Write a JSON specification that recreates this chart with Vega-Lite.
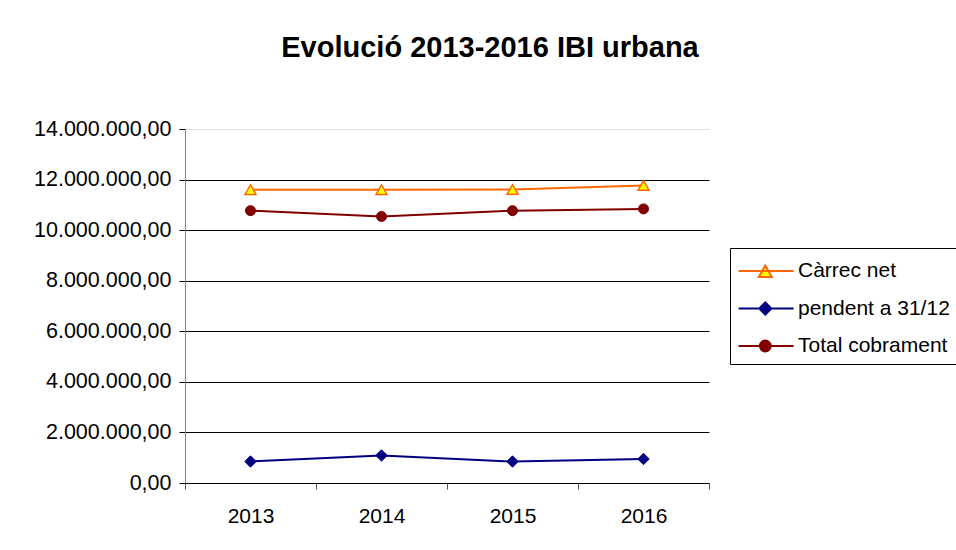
{
  "$schema": "https://vega.github.io/schema/vega-lite/v6.json",
  "width": 524,
  "height": 354,
  "autosize": "none",
  "padding": {"left": 185, "top": 129, "right": 247, "bottom": 67},
  "background": "white",
  "title": {
    "text": "Evolució 2013-2016 IBI urbana",
    "font": "Liberation Sans",
    "fontSize": 29,
    "fontWeight": "bold",
    "color": "black",
    "anchor": "middle",
    "frame": "group",
    "dx": 43,
    "offset": 55
  },
  "data": {
    "values": [
      {"year": "2013", "series": "Càrrec net", "value": 11600000},
      {"year": "2014", "series": "Càrrec net", "value": 11600000},
      {"year": "2015", "series": "Càrrec net", "value": 11610000},
      {"year": "2016", "series": "Càrrec net", "value": 11770000},
      {"year": "2013", "series": "pendent a 31/12", "value": 850000},
      {"year": "2014", "series": "pendent a 31/12", "value": 1090000},
      {"year": "2015", "series": "pendent a 31/12", "value": 850000},
      {"year": "2016", "series": "pendent a 31/12", "value": 950000},
      {"year": "2013", "series": "Total cobrament", "value": 10770000},
      {"year": "2014", "series": "Total cobrament", "value": 10540000},
      {"year": "2015", "series": "Total cobrament", "value": 10770000},
      {"year": "2016", "series": "Total cobrament", "value": 10840000}
    ]
  },
  "encoding": {
    "x": {
      "field": "year",
      "type": "ordinal",
      "bandPosition": 0.5,
      "scale": {"type": "band", "paddingInner": 0, "paddingOuter": 0},
      "axis": {
        "title": null,
        "labelAngle": 0,
        "labelFont": "Liberation Sans",
        "labelFontSize": 21,
        "labelColor": "black",
        "labelPadding": 16,
        "tickSize": 6,
        "tickColor": "#555555",
        "tickBand": "extent",
        "domainColor": "black",
        "grid": false
      }
    },
    "y": {
      "field": "value",
      "type": "quantitative",
      "scale": {"domain": [0, 14000000], "nice": false, "zero": true},
      "axis": {
        "title": null,
        "values": [0, 2000000, 4000000, 6000000, 8000000, 10000000, 12000000, 14000000],
        "format": ",.2f",
        "labelFont": "Liberation Sans",
        "labelFontSize": 21.5,
        "labelColor": "black",
        "labelPadding": 8,
        "labelFlush": false,
        "labelOverlap": false,
        "tickSize": 6,
        "tickColor": "black",
        "domainColor": "#808080",
        "grid": true,
        "gridWidth": 1,
        "gridColor": {"condition": {"test": "datum.value == 14000000", "value": "#e0e0e0"}, "value": "black"}
      }
    }
  },
  "layer": [
    {
      "transform": [{"filter": "datum.series === 'Càrrec net'"}],
      "mark": {
        "type": "line",
        "color": "#FF6600",
        "strokeWidth": 2,
        "point": {"shape": "triangle-up", "filled": true, "fill": "#FFFF00", "stroke": "#FF6600", "strokeWidth": 1.5, "size": 120, "opacity": 1}
      },
      "encoding": {}
    },
    {
      "transform": [{"filter": "datum.series === 'pendent a 31/12'"}],
      "mark": {
        "type": "line",
        "color": "#000080",
        "strokeWidth": 2,
        "point": {"shape": "diamond", "filled": true, "fill": "#000080", "stroke": "#000080", "strokeWidth": 1, "size": 130, "opacity": 1}
      },
      "encoding": {}
    },
    {
      "transform": [{"filter": "datum.series === 'Total cobrament'"}],
      "mark": {
        "type": "line",
        "color": "#800000",
        "strokeWidth": 2,
        "point": {"shape": "circle", "filled": true, "fill": "#800000", "stroke": "#800000", "strokeWidth": 1, "size": 100, "opacity": 1}
      },
      "encoding": {}
    },
    {
      "mark": {"type": "point", "filled": true, "opacity": 0},
      "encoding": {
        "stroke": {
          "field": "series", "type": "nominal",
          "scale": {"domain": ["Càrrec net", "pendent a 31/12", "Total cobrament"], "range": ["#FF6600", "#000080", "#800000"]},
          "legend": {"title": null, "orient": "none", "legendX": 545, "legendY": 119, "symbolSize": 784, "symbolStrokeWidth": 2, "symbolOpacity": 1, "labelFont": "Liberation Sans", "labelFontSize": 21, "labelColor": "black", "labelOffset": 30, "rowPadding": 11.5, "padding": 8, "strokeColor": "black", "labelLimit": 400}
        },
        "fill": {
          "field": "series", "type": "nominal",
          "scale": {"domain": ["Càrrec net", "pendent a 31/12", "Total cobrament"], "range": ["#FFFF00", "#000080", "#800000"]},
          "legend": {"title": null, "orient": "none", "legendX": 545, "legendY": 119, "symbolSize": 784, "symbolStrokeWidth": 2, "symbolOpacity": 1, "labelFont": "Liberation Sans", "labelFontSize": 21, "labelColor": "black", "labelOffset": 30, "rowPadding": 11.5, "padding": 8, "strokeColor": "black", "labelLimit": 400}
        },
        "shape": {
          "field": "series", "type": "nominal",
          "scale": {"domain": ["Càrrec net", "pendent a 31/12", "Total cobrament"], "range": [
            "M-1.029,0H2.9M0.879,-0.39L1.343,0.43L0.415,0.43Z",
            "M-1.029,0H2.9M0.879,-0.43L1.309,0L0.879,0.43L0.449,0Z",
            "M-1.029,0H2.9M1.269,0A0.39,0.39,0,1,1,0.489,0A0.39,0.39,0,1,1,1.269,0Z"
          ]},
          "legend": {"title": null, "orient": "none", "legendX": 545, "legendY": 119, "symbolSize": 784, "symbolStrokeWidth": 2, "symbolOpacity": 1, "labelFont": "Liberation Sans", "labelFontSize": 21, "labelColor": "black", "labelOffset": 30, "rowPadding": 11.5, "padding": 8, "strokeColor": "black", "labelLimit": 400}
        }
      }
    }
  ],
  "config": {
    "view": {"stroke": null},
    "locale": {"number": {"decimal": ",", "thousands": ".", "grouping": [3], "currency": ["", " €"]}}
  }
}
